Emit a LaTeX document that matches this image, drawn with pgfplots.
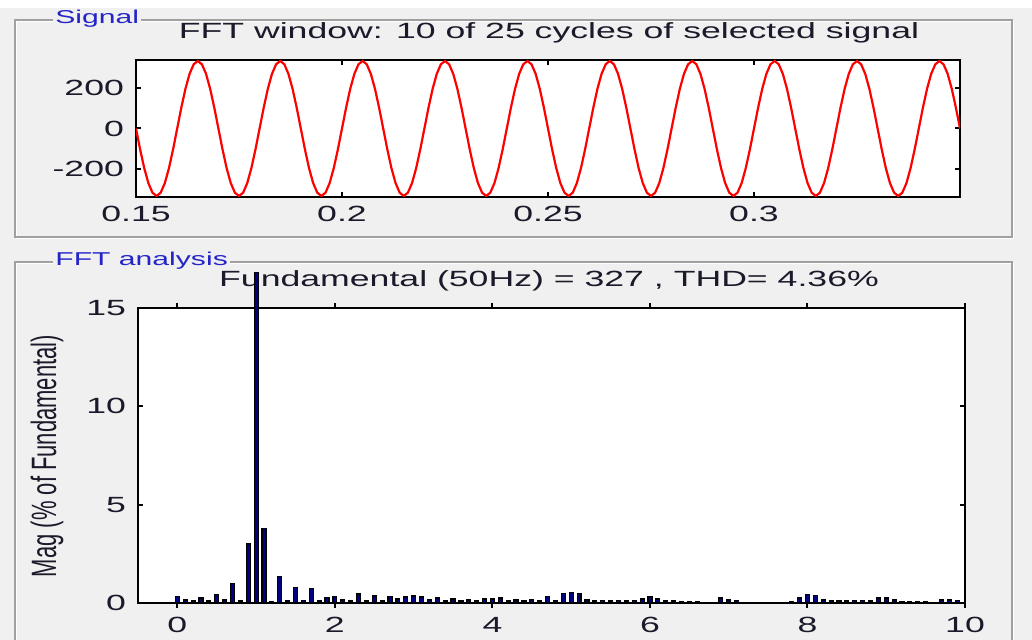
\documentclass[border=0pt]{standalone}
\usepackage{pgfplots}
\pgfplotsset{compat=1.18}
\usepackage{fontspec}
\setmainfont{Liberation Sans}[FakeStretch=1.62]
\newfontfamily\plainfont{Liberation Sans}
\definecolor{bg}{HTML}{F0F0F0}
\definecolor{grp}{HTML}{A0A0A0}
\definecolor{lbl}{HTML}{2424C8}
\definecolor{barfill}{HTML}{000080}
\definecolor{txt}{HTML}{1A1A2A}
\begin{document}
\begin{tikzpicture}[font=\fontsize{11}{13}\selectfont]
\useasboundingbox (0,0) rectangle (516pt,320pt);
\fill[bg] (0,0) rectangle (516pt,320pt);
\fill[white] (0,316pt) rectangle (516pt,320pt);
% group boxes
\draw[white, line width=0.6pt] (8.3pt,200.7pt) rectangle (506.8pt,309.2pt);
\draw[grp, line width=0.6pt] (7.5pt,201.5pt) rectangle (506pt,310pt);
\draw[white, line width=0.6pt] (8.3pt,-1pt) -- (8.3pt,188.2pt) -- (506.8pt,188.2pt) -- (506.8pt,-1pt);
\draw[grp, line width=0.6pt] (7.5pt,-1pt) -- (7.5pt,189pt) -- (506pt,189pt) -- (506pt,-1pt);
\node[anchor=west, fill=bg, inner xsep=1pt, inner ysep=0.5pt, text=lbl, font=\fontsize{9.3}{10}\selectfont] at (26.5pt,310.5pt) {Signal};
\node[anchor=west, fill=bg, inner xsep=1pt, inner ysep=0.5pt, text=lbl, font=\fontsize{9.3}{10}\selectfont] at (26.5pt,189.5pt) {FFT analysis};
% titles
\node[text=txt] at (274.5pt,303.5pt) {FFT window: 10 of 25 cycles of selected signal};
\node[text=txt] at (274.5pt,179.5pt) {Fundamental (50Hz) = 327 , THD= 4.36\%};
\node[text=txt, rotate=90] at (23.5pt,92pt) {\scalebox{1}[1.6]{\plainfont Mag (\% of Fundamental)}};

\pgfplotsset{
  mystyle/.style={
    scale only axis, anchor=south west,
    tick align=inside, major tick length=2.5pt,
    axis line style={line width=1pt, black},
    every tick/.style={black, line width=1pt},
    axis background/.style={fill=white},
    ticklabel style={font=\fontsize{11}{13}\selectfont, text=txt},
    xticklabel style={yshift=-1pt},
    yticklabel style={xshift=-2.5pt},
  }
}

\begin{axis}[mystyle, at={(68pt,221.5pt)}, width=412pt, height=68.5pt,
  xmin=0.15, xmax=0.35, ymin=-340, ymax=340,
  xtick={0.15,0.2,0.25,0.3}, xticklabels={0.15,0.2,0.25,0.3},
  ytick={-200,0,200}, yticklabels={-200,0,200}]
\addplot[red, line width=1.1pt, mark=none] coordinates {
(0.150,0) (0.151,-103.5) (0.152,-196.9) (0.153,-271.0) (0.154,-318.6) (0.155,-335) (0.156,-318.6) (0.157,-271.0) (0.158,-196.9) (0.159,-103.5)
(0.160,0) (0.161,103.5) (0.162,196.9) (0.163,271.0) (0.164,318.6) (0.165,335) (0.166,318.6) (0.167,271.0) (0.168,196.9) (0.169,103.5)
(0.170,0) (0.171,-103.5) (0.172,-196.9) (0.173,-271.0) (0.174,-318.6) (0.175,-335) (0.176,-318.6) (0.177,-271.0) (0.178,-196.9) (0.179,-103.5)
(0.180,0) (0.181,103.5) (0.182,196.9) (0.183,271.0) (0.184,318.6) (0.185,335) (0.186,318.6) (0.187,271.0) (0.188,196.9) (0.189,103.5)
(0.190,0) (0.191,-103.5) (0.192,-196.9) (0.193,-271.0) (0.194,-318.6) (0.195,-335) (0.196,-318.6) (0.197,-271.0) (0.198,-196.9) (0.199,-103.5)
(0.200,0) (0.201,103.5) (0.202,196.9) (0.203,271.0) (0.204,318.6) (0.205,335) (0.206,318.6) (0.207,271.0) (0.208,196.9) (0.209,103.5)
(0.210,0) (0.211,-103.5) (0.212,-196.9) (0.213,-271.0) (0.214,-318.6) (0.215,-335) (0.216,-318.6) (0.217,-271.0) (0.218,-196.9) (0.219,-103.5)
(0.220,0) (0.221,103.5) (0.222,196.9) (0.223,271.0) (0.224,318.6) (0.225,335) (0.226,318.6) (0.227,271.0) (0.228,196.9) (0.229,103.5)
(0.230,0) (0.231,-103.5) (0.232,-196.9) (0.233,-271.0) (0.234,-318.6) (0.235,-335) (0.236,-318.6) (0.237,-271.0) (0.238,-196.9) (0.239,-103.5)
(0.240,0) (0.241,103.5) (0.242,196.9) (0.243,271.0) (0.244,318.6) (0.245,335) (0.246,318.6) (0.247,271.0) (0.248,196.9) (0.249,103.5)
(0.250,0) (0.251,-103.5) (0.252,-196.9) (0.253,-271.0) (0.254,-318.6) (0.255,-335) (0.256,-318.6) (0.257,-271.0) (0.258,-196.9) (0.259,-103.5)
(0.260,0) (0.261,103.5) (0.262,196.9) (0.263,271.0) (0.264,318.6) (0.265,335) (0.266,318.6) (0.267,271.0) (0.268,196.9) (0.269,103.5)
(0.270,0) (0.271,-103.5) (0.272,-196.9) (0.273,-271.0) (0.274,-318.6) (0.275,-335) (0.276,-318.6) (0.277,-271.0) (0.278,-196.9) (0.279,-103.5)
(0.280,0) (0.281,103.5) (0.282,196.9) (0.283,271.0) (0.284,318.6) (0.285,335) (0.286,318.6) (0.287,271.0) (0.288,196.9) (0.289,103.5)
(0.290,0) (0.291,-103.5) (0.292,-196.9) (0.293,-271.0) (0.294,-318.6) (0.295,-335) (0.296,-318.6) (0.297,-271.0) (0.298,-196.9) (0.299,-103.5)
(0.300,0) (0.301,103.5) (0.302,196.9) (0.303,271.0) (0.304,318.6) (0.305,335) (0.306,318.6) (0.307,271.0) (0.308,196.9) (0.309,103.5)
(0.310,0) (0.311,-103.5) (0.312,-196.9) (0.313,-271.0) (0.314,-318.6) (0.315,-335) (0.316,-318.6) (0.317,-271.0) (0.318,-196.9) (0.319,-103.5)
(0.320,0) (0.321,103.5) (0.322,196.9) (0.323,271.0) (0.324,318.6) (0.325,335) (0.326,318.6) (0.327,271.0) (0.328,196.9) (0.329,103.5)
(0.330,0) (0.331,-103.5) (0.332,-196.9) (0.333,-271.0) (0.334,-318.6) (0.335,-335) (0.336,-318.6) (0.337,-271.0) (0.338,-196.9) (0.339,-103.5)
(0.340,0) (0.341,103.5) (0.342,196.9) (0.343,271.0) (0.344,318.6) (0.345,335) (0.346,318.6) (0.347,271.0) (0.348,196.9) (0.349,103.5)
(0.350,0)
};
\end{axis}

\begin{axis}[mystyle, at={(69pt,18.5pt)}, width=413.5pt, height=147.5pt,
  xmin=-0.5, xmax=10, ymin=0, ymax=15, clip=false,
  xtick={0,2,4,6,8,10}, xticklabels={0,2,4,6,8,10},
  ytick={0,5,10,15}, yticklabels={0,5,10,15},
  ybar, bar width=0.05]
\addplot[fill=barfill, draw=black, line width=0.6pt] coordinates {
(0.0,0.32) (0.1,0.15) (0.2,0.10) (0.3,0.25) (0.4,0.10) (0.5,0.42) (0.6,0.15) (0.7,0.98) (0.8,0.10) (0.9,3.00)
(1.0,16.8) (1.1,3.77) (1.2,0.08) (1.3,1.35) (1.4,0.10) (1.5,0.80) (1.6,0.12) (1.7,0.72) (1.8,0.10) (1.9,0.28)
(2.0,0.32) (2.1,0.15) (2.2,0.10) (2.3,0.46) (2.4,0.10) (2.5,0.36) (2.6,0.10) (2.7,0.35) (2.8,0.20) (2.9,0.30)
(3.0,0.36) (3.1,0.30) (3.2,0.15) (3.3,0.25) (3.4,0.10) (3.5,0.20) (3.6,0.10) (3.7,0.15) (3.8,0.10) (3.9,0.20)
(4.0,0.20) (4.1,0.25) (4.2,0.10) (4.3,0.15) (4.4,0.10) (4.5,0.15) (4.6,0.10) (4.7,0.34) (4.8,0.10) (4.9,0.50)
(5.0,0.55) (5.1,0.50) (5.2,0.15) (5.3,0.10) (5.4,0.12) (5.5,0.10) (5.6,0.12) (5.7,0.10) (5.8,0.12) (5.9,0.20)
(6.0,0.30) (6.1,0.20) (6.2,0.10) (6.3,0.10) (6.4,0.05) (6.5,0.08) (6.6,0.05) (6.7,0.02) (6.8,0.02) (6.9,0.25)
(7.0,0.15) (7.1,0.12) (7.2,0.02) (7.3,0.02) (7.4,0.02) (7.5,0.02) (7.6,0.02) (7.7,0.02) (7.8,0.06) (7.9,0.25)
(8.0,0.42) (8.1,0.37) (8.2,0.15) (8.3,0.10) (8.4,0.10) (8.5,0.10) (8.6,0.12) (8.7,0.12) (8.8,0.10) (8.9,0.25)
(9.0,0.25) (9.1,0.15) (9.2,0.08) (9.3,0.05) (9.4,0.05) (9.5,0.05) (9.6,0.03) (9.7,0.15) (9.8,0.15) (9.9,0.12)
};
\end{axis}
\end{tikzpicture}
\end{document}
